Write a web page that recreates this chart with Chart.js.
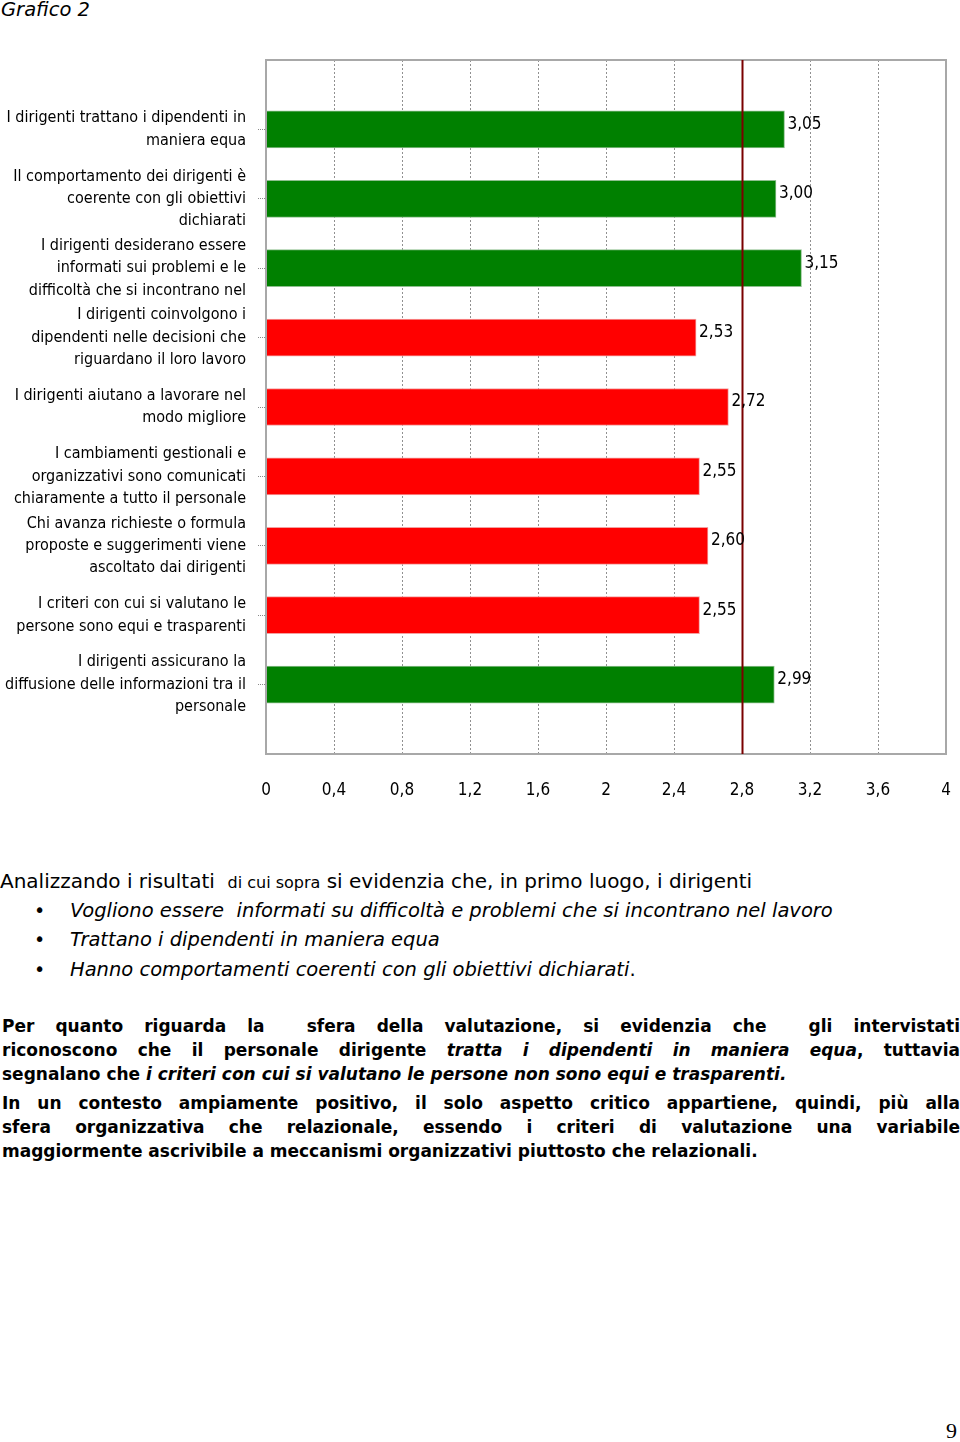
<!DOCTYPE html>
<html>
<head>
<meta charset="utf-8">
<script src="https://cdn.jsdelivr.net/npm/chart.js@4.4.1/dist/chart.umd.min.js"></script>
<style>
  html,body{margin:0;padding:0;background:#fff;}
  body{width:960px;height:1442px;position:relative;overflow:hidden;color:#000;}
  #title{position:absolute;left:1px;top:-2px;font:italic 19.5px "DejaVu Sans",sans-serif;}
  #wrap{position:absolute;left:0;top:0;width:960px;height:830px;}
  .reg{position:absolute;left:0;font-family:"DejaVu Sans",sans-serif;font-size:20px;white-space:nowrap;}
  .small{font-size:16px;font-family:"DejaVu Sans",sans-serif;}
  .bul{position:absolute;left:34px;font:19px "DejaVu Sans",sans-serif;}
  .bt{position:absolute;left:70px;font:italic 19.5px "DejaVu Sans",sans-serif;white-space:nowrap;}
  .bl{position:absolute;left:2px;width:958px;font:bold 17px "DejaVu Sans",sans-serif;white-space:nowrap;text-align:justify;text-align-last:justify;}
  .bl.last{text-align:left;text-align-last:left;}
  #pg{position:absolute;left:946px;top:1418px;font:22px "Liberation Serif",serif;}
</style>
</head>
<body>
<div id="title">Grafico 2</div>
<div id="wrap"><canvas id="c"></canvas></div>

<div class="reg" style="top:869px;">Analizzando i risultati &nbsp;<span class="small">di cui sopra</span> si evidenzia che, in primo luogo, i dirigenti</div>
<div class="bul" style="top:899px;">•</div><div class="bt" style="top:899px;">Vogliono essere &nbsp;informati su difficoltà e problemi che si incontrano nel lavoro</div>
<div class="bul" style="top:928px;">•</div><div class="bt" style="top:928px;">Trattano i dipendenti in maniera equa</div>
<div class="bul" style="top:958px;">•</div><div class="bt" style="top:958px;">Hanno comportamenti coerenti con gli obiettivi dichiarati<span style="font-style:normal">.</span></div>

<div class="bl" style="top:1016px;">Per quanto riguarda la &nbsp;sfera della valutazione, si evidenzia che &nbsp;gli intervistati</div>
<div class="bl" style="top:1040px;">riconoscono che il personale dirigente <i>tratta i dipendenti in maniera equa</i>, tuttavia</div>
<div class="bl last" style="top:1064px;">segnalano che <i>i criteri con cui si valutano le persone non sono equi e trasparenti.</i></div>
<div class="bl" style="top:1093px;">In un contesto ampiamente positivo, il solo aspetto critico appartiene, quindi, più alla</div>
<div class="bl" style="top:1117px;">sfera organizzativa che relazionale, essendo i criteri di valutazione una variabile</div>
<div class="bl last" style="top:1141px;">maggiormente ascrivibile a meccanismi organizzativi piuttosto che relazionali.</div>

<div id="pg">9</div>

<script>
const categories = [
  ["I dirigenti trattano i dipendenti in", "maniera equa"],
  ["Il comportamento dei dirigenti è", "coerente con gli obiettivi", "dichiarati"],
  ["I dirigenti desiderano essere", "informati sui problemi e le", "difficoltà che si incontrano nel"],
  ["I dirigenti coinvolgono i", "dipendenti nelle decisioni che", "riguardano il loro lavoro"],
  ["I dirigenti aiutano a lavorare nel", "modo migliore"],
  ["I cambiamenti gestionali e", "organizzativi sono comunicati", "chiaramente a tutto il personale"],
  ["Chi avanza richieste o formula", "proposte e suggerimenti viene", "ascoltato dai dirigenti"],
  ["I criteri con cui si valutano le", "persone sono equi e trasparenti"],
  ["I dirigenti assicurano la", "diffusione delle informazioni tra il", "personale"]
];
const values = [3.05, 3.00, 3.15, 2.53, 2.72, 2.55, 2.60, 2.55, 2.99];
const referenceValue = 2.8;
const xMin = 0, xMax = 4, xStep = 0.4;

const GREEN = '#008000', RED = '#ff0000';
const NARROW = '"Liberation Sans Narrow","Arial Narrow","DejaVu Sans Condensed",sans-serif';

// pad with empty slots top and bottom (the original leaves one slot of space)
const labels = [''].concat(categories, ['']);
const data = [null].concat(values, [null]);

const fmtTick = v => (Math.round(v * 10) / 10).toString().replace('.', ',');
const fmtVal = v => v.toFixed(2).replace('.', ',');

const extras = {
  id: 'extras',
  afterDatasetsDraw(chart) {
    const {ctx, chartArea: a} = chart;
    const xs = chart.scales.x;
    ctx.save();
    // plot frame
    ctx.strokeStyle = '#a8a8a8';
    ctx.lineWidth = 2;
    ctx.strokeRect(a.left, a.top, a.right - a.left, a.bottom - a.top);
    // reference line
    const rx = Math.round(xs.getPixelForValue(referenceValue)) + 0.5;
    ctx.strokeStyle = '#7a0000';
    ctx.lineWidth = 2;
    ctx.beginPath(); ctx.moveTo(rx, a.top); ctx.lineTo(rx, a.bottom); ctx.stroke();
    // value labels
    const meta = chart.getDatasetMeta(0);
    ctx.fillStyle = '#000';
    ctx.font = '17px ' + NARROW;
    ctx.textAlign = 'left';
    ctx.textBaseline = 'middle';
    meta.data.forEach((bar, i) => {
      const v = data[i];
      if (v == null) return;
      ctx.fillText(fmtVal(v), bar.x + 3, bar.y - 5);
    });
    ctx.restore();
  }
};

new Chart(document.getElementById('c'), {
  type: 'bar',
  data: {
    labels: labels,
    datasets: [{
      data: data,
      backgroundColor: c => (c.raw != null && c.raw >= referenceValue) ? GREEN : RED,
      borderColor: c => (c.raw != null && c.raw >= referenceValue) ? '#8fbf8f' : '#f4a0a0',
      borderWidth: 1,
      borderSkipped: 'left',
      barThickness: 37
    }]
  },
  options: {
    indexAxis: 'y',
    responsive: true,
    maintainAspectRatio: false,
    devicePixelRatio: 1,
    animation: false,
    layout: { padding: { top: 60, right: 14, left: 0, bottom: 0 } },
    plugins: { legend: { display: false }, tooltip: { enabled: false } },
    scales: {
      y: {
        type: 'category',
        offset: false,
        afterFit: s => { s.width = 266; s.paddingTop = 0; s.paddingBottom = 0; },
        border: { display: true, color: '#a8a8a8', width: 2 },
        grid: {
          offset: false,
          drawOnChartArea: false,
          tickLength: 8,
          tickColor: c => (c.index === 0 || c.index === labels.length - 1) ? 'rgba(0,0,0,0)' : '#888',
          tickBorderDash: [1, 1]
        },
        ticks: {
          autoSkip: false,
          padding: 12,
          color: '#000',
          font: { family: NARROW, size: 16, lineHeight: 1.4 }
        }
      },
      x: {
        type: 'linear',
        min: xMin,
        max: xMax,
        afterFit: s => { s.height = 76; s.paddingLeft = 0; s.paddingRight = 0; },
        afterBuildTicks: s => {
          const t = [];
          for (let k = 0; k <= Math.round((xMax - xMin) / xStep); k++) t.push({ value: +(xMin + k * xStep).toFixed(1) });
          s.ticks = t;
        },
        border: { display: true, color: '#a8a8a8', width: 2, dash: [2, 2] },
        grid: { color: '#909090', lineWidth: 1, drawTicks: false },
        ticks: {
          padding: 26,
          color: '#000',
          maxRotation: 0,
          font: { family: NARROW, size: 17 },
          callback: v => fmtTick(v)
        }
      }
    }
  },
  plugins: [extras]
});
</script>
</body>
</html>
